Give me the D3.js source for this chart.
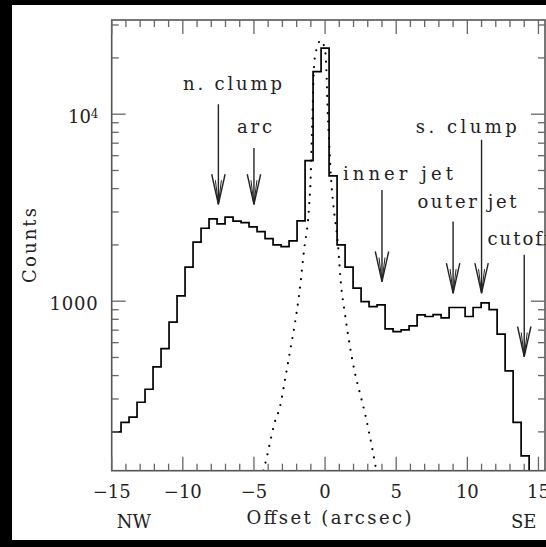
<!DOCTYPE html>
<html><head><meta charset="utf-8">
<script src="https://cdn.jsdelivr.net/npm/d3@7"></script>
<style>html,body{margin:0;padding:0;background:#000;overflow:hidden}</style>
</head><body><svg id="c" width="546" height="547"></svg>
<script>
// ---------- data ----------
const binWidth = 0.5625;          // arcsec per histogram bin
const firstBinIndex = -27;        // bin centres are index*binWidth
const counts = [200, 200,
  225, 240, 288, 338, 445, 558, 773, 1067, 1520, 2070,
  2455, 2757, 2590, 2813, 2680, 2633, 2497, 2357, 2162, 2000,
  1958, 2100, 2688, 5650, 16900, 22540, 4677, 2000, 1520, 1174,
  995, 936, 955, 711, 688, 703, 738, 845, 828, 848,
  814, 925, 925, 828, 925, 980, 902, 666, 424, 225,
  149, 100, 100];
const psfX = [-4.33, -4.11, -3.88, -3.59, -3.17, -2.82, -2.47, -2.12, -1.84, -1.49, -1.11, -1.01, -0.945, -0.875, -0.83, -0.71, -0.3,
  0.0, 0.11, 0.18, 0.29, 0.41, 0.57, 0.92, 1.09, 1.39, 1.75, 2.10, 2.45, 2.80, 3.10, 3.38, 3.60];
const psfY = [124, 145, 174, 218, 273, 379, 537, 762, 1059, 1841, 3342, 4634, 7000, 10540, 14350, 20300, 24800,
  22000, 15850, 10540, 7000, 4634, 3342, 1950, 1300, 863, 571, 412, 322, 252, 197, 154, 124];
const xTickMajor = [-15, -10, -5, 0, 5, 10, 15];
const xTickLabels = ["\u221215", "\u221210", "\u22125", "0", "5", "10", "15"];
const yTickMajor = [1000, 10000];
const yTickMinor = [200, 300, 400, 500, 600, 700, 800, 900, 2000, 3000, 4000, 5000, 6000, 7000, 8000, 9000, 20000, 30000];
const annLabels = ["n. clump", "arc", "inner jet", "outer jet", "s. clump", "cutoff"];
const annX = [-7.5, -5, 4, 9, 11, 14];
const annTip = [3300, 3300, 1274, 1104, 1104, 506];
const annTop = [11300, 6600, 3935, 2670, 7300, 1770];
const annTextX = [-6.51, -4.96, 5.12, 9.97, 9.93, 11.42];
const annTextY = [13500, 7950, 4450, 3150, 7950, 2000];

// ---------- layout ----------
const L = 111.7, R = 545, T = 20, B = 470.7;
const FONT = "'DejaVu Serif', 'Liberation Serif', serif";
const annWidth = [99, 35, 110, 99, 101, null];
const annAnchor = ["middle", "middle", "middle", "middle", "middle", "start"];
const svg = d3.select("#c");
svg.append("rect").attr("x", 12).attr("y", 5).attr("width", 534).attr("height", 535).attr("fill", "#fff");

const x = d3.scaleLinear().domain([-15, 15.46]).range([L, R]);
const y = d3.scaleLog().domain([124, 31900]).range([B, T]);

svg.append("clipPath").attr("id", "clip").append("rect")
  .attr("x", L).attr("y", T).attr("width", R - L).attr("height", B - T);

// histogram
const pts = counts.map((c, i) => [(firstBinIndex + i - 0.5) * binWidth, c]);
pts.push([(firstBinIndex + counts.length - 0.5) * binWidth, counts[counts.length - 1]]);
const stepLine = d3.line().x(d => x(d[0])).y(d => y(Math.max(d[1], 50))).curve(d3.curveStepAfter);
svg.append("path").attr("d", stepLine(pts)).attr("clip-path", "url(#clip)")
  .attr("fill", "none").attr("stroke", "#000").attr("stroke-width", 1.7);

// PSF dotted curve
const psfLine = d3.line().x(d => x(d[0])).y(d => y(d[1])).curve(d3.curveMonotoneX);
svg.append("path").attr("d", psfLine(psfX.map((v, i) => [v, psfY[i]]))).attr("clip-path", "url(#clip)")
  .attr("fill", "none").attr("stroke", "#000").attr("stroke-width", 2.2)
  .attr("stroke-linecap", "round").attr("stroke-dasharray", "0,8.5");

// frame
svg.append("rect").attr("x", L).attr("y", T).attr("width", R - L).attr("height", B - T)
  .attr("fill", "none").attr("stroke", "#555").attr("stroke-width", 1.6);

// ticks
const tk = svg.append("g").attr("stroke", "#666").attr("stroke-width", 1.3);
const xMinor = d3.range(-15, 16, 1);
xMinor.forEach(v => {
  const len = xTickMajor.includes(v) ? 14 : 7;
  tk.append("line").attr("x1", x(v)).attr("x2", x(v)).attr("y1", B).attr("y2", B - len);
  tk.append("line").attr("x1", x(v)).attr("x2", x(v)).attr("y1", T).attr("y2", T + len);
});
yTickMajor.concat(yTickMinor).forEach(v => {
  const len = yTickMajor.includes(v) ? 14 : 7;
  tk.append("line").attr("x1", L).attr("x2", L + len).attr("y1", y(v)).attr("y2", y(v));
  tk.append("line").attr("x1", R).attr("x2", R - len).attr("y1", y(v)).attr("y2", y(v));
});

// tick labels
const tl = svg.append("g").attr("font-family", FONT).attr("font-size", 18).attr("fill", "#222");
xTickMajor.forEach((v, i) => {
  tl.append("text").attr("x", x(v)).attr("y", 497.5).attr("text-anchor", "middle").text(xTickLabels[i]);
});
const t4 = tl.append("text").attr("x", 98.5).attr("y", y(10000) + 9).attr("text-anchor", "end");
t4.append("tspan").text("10");
t4.append("tspan").attr("font-size", 12).attr("dy", -5).text("4");
tl.append("text").attr("x", 98.5).attr("y", y(1000) + 9).attr("text-anchor", "end")
  .attr("letter-spacing", 0.8).text("1000");

// axis titles
tl.append("text").attr("x", 329).attr("y", 524).attr("text-anchor", "middle")
  .attr("textLength", 165).attr("lengthAdjust", "spacing").text("Offset (arcsec)");
tl.append("text").attr("x", 134).attr("y", 528).attr("text-anchor", "middle").text("NW");
tl.append("text").attr("x", 523.7).attr("y", 528).attr("text-anchor", "middle").text("SE");
tl.append("text").attr("transform", "translate(35.5,245.5) rotate(-90)").attr("text-anchor", "middle")
  .attr("textLength", 75).attr("lengthAdjust", "spacing").text("Counts");

// annotations
const an = svg.append("g");
annLabels.forEach((lab, i) => {
  const ax = x(annX[i]), yt = y(annTip[i]), y0 = y(annTop[i]);
  an.append("line").attr("x1", ax).attr("x2", ax).attr("y1", y0).attr("y2", yt)
    .attr("stroke", "#222").attr("stroke-width", 1.4);
  an.append("path").attr("d", `M${ax - 6.7},${yt - 30}L${ax},${yt}L${ax + 6.7},${yt - 30}`)
    .attr("fill", "none").attr("stroke", "#222").attr("stroke-width", 1.4);
  an.append("path").attr("d", `M${ax - 3},${yt - 24}L${ax},${yt}L${ax + 3},${yt - 24}`)
    .attr("fill", "none").attr("stroke", "#222").attr("stroke-width", 1);
  const t = an.append("text").attr("x", x(annTextX[i])).attr("y", y(annTextY[i]))
    .attr("text-anchor", annAnchor[i]).attr("font-family", FONT).attr("font-size", 18)
    .attr("fill", "#222").text(lab);
  if (annWidth[i]) t.attr("textLength", annWidth[i]).attr("lengthAdjust", "spacing");
  else t.attr("letter-spacing", 2);
});
</script></body></html>
